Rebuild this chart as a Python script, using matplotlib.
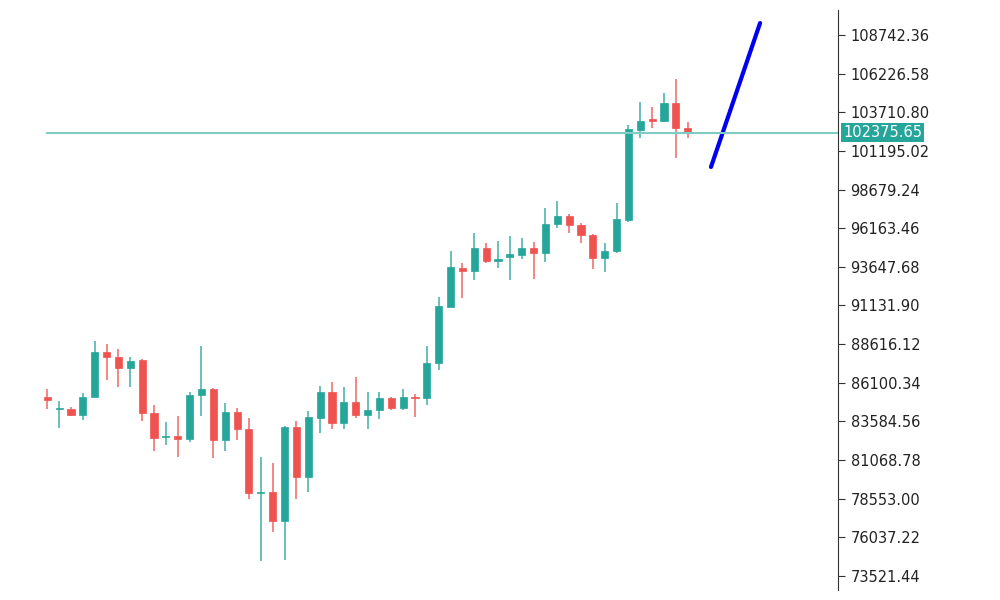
import matplotlib
matplotlib.use("Agg")
import matplotlib.pyplot as plt
import numpy as np

opens = [85195,84370,84370,84002,85195,88125,87799,87083,87582,84110,82548,82634,82461,85304,85694,82374,84175,83090,78902,79011,77101,83242,79944,
         83829,85522,83460,84870,84002,84328,85131,84437,85196,85088,87409,91055,93551,93377,94853,94050,94310,94419,94853,94527,96415,96951,96372,95720,94202,94701,
         96698,102557,103251,103165,104293,102666]
highs = [85673,84913,84501,85455,88841,88602,88276,87799,87625,84653,83568,83937,85521,88493,85738,84761,84479,83785,81289,80898,83285,83633,84262,
         85890,86173,85847,86455,85522,85522,85196,85673,85370,88494,91706,94701,93919,95829,95178,95330,95655,95504,95287,97457,97956,97088,96480,95764,95178,97782,
         102883,104402,104033,104987,105855,103100]
lows = [84370,83134,83937,83676,85195,86280,85803,85803,83633,81658,82049,81246,82266,83937,81224,81658,82374,78511,74519,76407,74562,78533,78967,
        82809,83069,83069,83786,83069,83720,84328,84328,83894,84654,86932,91012,91598,92791,93919,93551,92791,94137,92834,93985,96198,95829,95221,93485,93334,94527,
        96590,102014,102666,103100,100713,102014]
closes = [84978,84414,84002,85195,88125,87799,87083,87539,84110,82526,82613,82461,85304,85673,82374,84175,83090,78902,78967,77101,83242,79944,83850,
          85522,83460,84870,84002,84328,85088,84437,85196,85088,87409,91098,93659,93377,94853,94028,94158,94462,94853,94527,96415,96957,96350,95720,94202,94701,96740,
          102600,103165,103143,104293,102666,102384]
trend_x = [56.96, 61.1]
trend_y = [100147, 109523]
last_price = 102375.65
tick_vals = [108742.36,106226.58,103710.80,101195.02,98679.24,96163.46,93647.68,91131.90,
             88616.12,86100.34,83584.56,81068.78,78553.00,76037.22,73521.44]

GREEN = "#26a69a"; RED = "#ef5350"
fig = plt.figure(figsize=(10, 6), dpi=100)
ax = fig.add_axes([0.0, 10/600, 0.838, 580/600])
idx = np.arange(1, len(opens) + 1)
for i, o, h, l, c in zip(idx, opens, highs, lows, closes):
    col = GREEN if c >= o else RED
    ax.vlines(i, l, h, color=col, lw=1.3, alpha=0.75)
    b = max(abs(c - o), 60)
    ax.bar(i, b, bottom=min(o, c), width=0.6, color=col, edgecolor=col, lw=0.5)
ax.plot(trend_x, trend_y, color="#0000ee", lw=3, solid_capstyle="round")
ax.axhline(last_price, xmin=(1 - (-2.99)) / (67.67 + 2.99), color="#80cbc4", lw=1.5)
ax.set_xlim(-2.99, 67.67)
ax.set_ylim(72606, 110370)
for s in ["top", "bottom", "left"]:
    ax.spines[s].set_visible(False)
ax.spines["right"].set_color("#333333")
ax.set_xticks([])
ax.yaxis.tick_right()
ax.set_yticks(tick_vals)
ax.set_yticklabels([f"{v:.2f}" for v in tick_vals], fontsize=10.5, color="#222222")
ax.tick_params(axis="y", length=5, pad=4, color="#333333")
ax.text(1.006, last_price, f"{last_price:.2f}", transform=ax.get_yaxis_transform(),
        va="center", ha="left", fontsize=10.5, color="white",
        bbox=dict(boxstyle="square,pad=0.15", fc="#26a69a", ec="none"))
fig.savefig("out.png", dpi=100)
